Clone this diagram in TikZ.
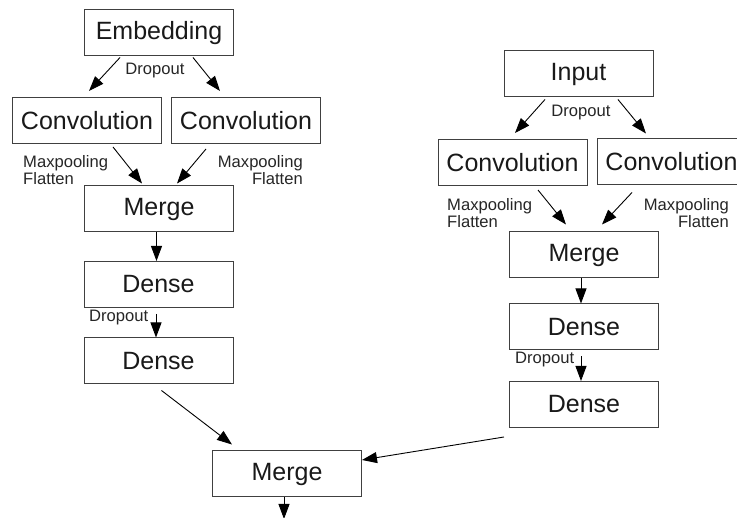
\documentclass[tikz,border=0pt]{standalone}
\usepackage{fontspec}
\setmainfont{Liberation Sans}
\usetikzlibrary{arrows.meta,calc}

\begin{document}
\begin{tikzpicture}[x=1pt,y=-1pt]
  \tikzset{main node/.style={rectangle, draw=black!75, line width=1pt,
		minimum width=149pt, minimum height=46pt, inner sep=0pt,
		text=black!90, text centered, font=\fontsize{25}{30}\selectfont}, }
\tikzset{label node/.style={inner sep=0pt, text=black!85,
		font=\fontsize{16.6}{17}\selectfont}, }
\tikzset{linea/.style={-{Triangle[length=15pt,width=11pt]}, line width=0.9pt},}
\useasboundingbox (0,0) rectangle (737,518);
    % first branch
    \node[main node] (emb)    at (159,33)    {Embedding};
    \node[main node] (convA)  at (87,120.5)  {Convolution};
    \node[main node] (convB)  at (246,120.5) {Convolution};
    \node[main node] (mergeA) at (159,209)   {Merge};
    \node[main node] (denseA) at (158.5,284.5) {Dense};
    \node[main node] (denseB) at (158.5,361) {Dense};
    % second branch
    \node[main node] (inp)    at (578.5,74)  {Input};
    \node[main node] (convC)  at (512.5,162.5) {Convolution};
    \node[main node] (convD)  at (671.5,162) {Convolution};
    \node[main node] (mergeB) at (584,255)   {Merge};
    \node[main node] (denseC) at (584,327)   {Dense};
    \node[main node] (denseD) at (584,404.5) {Dense};
    % joint
    \node[main node] (merge)  at (287,474)   {Merge};
    \coordinate (out) at (284,519);
%
   \node[label node] (dropA) at (155,71) {Dropout};
   \node[label node, anchor=west, align=left] (poolA) at (23,170) {Maxpooling\\Flatten};
   \node[label node, anchor=east, align=right] (poolB) at (303,170) {Maxpooling\\Flatten};
   \node[label node, anchor=west] (dropB) at (89,318) {Dropout};
   \node[label node] (dropC) at (581,113) {Dropout};
   \node[label node, anchor=west, align=left] (poolC) at (447,213) {Maxpooling\\Flatten};
   \node[label node, anchor=east, align=right] (poolD) at (729,213) {Maxpooling\\Flatten};
   \node[label node, anchor=west] (dropD) at (515,360) {Dropout};
%
\draw[linea] ($(emb.south)+(-39,1)$) -- ($(convA.north)+(2,-6)$);
\draw[linea] ($(emb.south)+(34,1)$) -- ($(convB.north)+(-26,-6)$);
\draw[linea] ($(convA.south)+(26,3)$) -- ($(mergeA.north)+(-17,-2)$);
\draw[linea] ($(convB.south)+(-40,5)$) -- ($(mergeA.north)+(18,-2)$);
\draw[linea] ($(mergeA.south)+(-2.5,0)$) -- ($(denseA.north)+(-2,0)$);
\draw[linea] ($(denseA.south)+(-2.5,6)$) -- ($(denseB.north)+(-2.5,0)$);
\draw[linea] ($(denseB.south)+(3,6)$) -- ($(merge.north)+(-55,-6)$);
\draw[linea] ($(denseD.south west)+(-5,9)$) -- ($(merge.east)+(0,-14)$);
\draw[linea] ($(merge.south)+(-3,0)$) -- (out);
%
\draw[linea] ($(inp.south)+(-33.5,2)$) -- ($(convC.north)+(2.5,-6)$);
\draw[linea] ($(inp.south)+(39.5,2)$) -- ($(convD.north)+(-25.5,-5)$);
\draw[linea] ($(convC.south)+(25.5,4)$) -- ($(mergeB.north)+(-18,-7)$);
\draw[linea] ($(convD.south)+(-39.5,7)$) -- ($(mergeB.north)+(18,-7)$);
\draw[linea] ($(mergeB.south)+(-3,0)$) -- ($(denseC.north)+(-3,0)$);
\draw[linea] ($(denseC.south)+(-3,6)$) -- ($(denseD.north)+(-3,0)$);
%
\end{tikzpicture}
\end{document}
